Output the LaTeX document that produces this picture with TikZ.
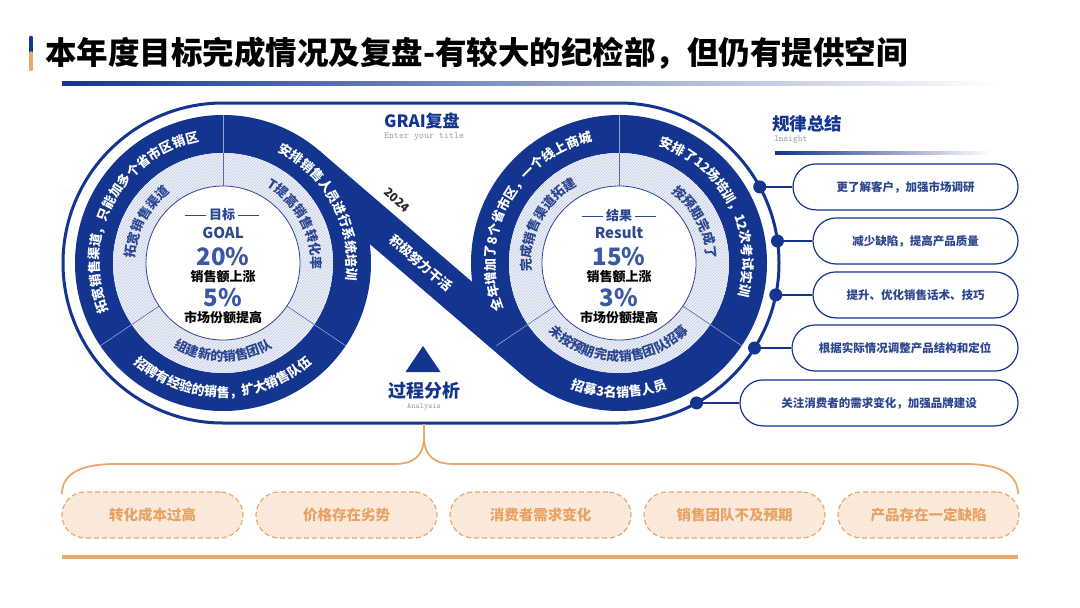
\documentclass[tikz,border=0pt]{standalone}
\usepackage{fontspec}
\setmainfont{Noto Sans CJK SC}
\usetikzlibrary{calc,decorations.text,patterns}
\definecolor{nb}{HTML}{14358F}
\definecolor{nbt}{HTML}{2B4590}
\definecolor{mb}{HTML}{3A58A3}
\definecolor{gb}{HTML}{2E4A8C}
\definecolor{og}{HTML}{EAA86B}
\definecolor{ogt}{HTML}{E8A262}
\definecolor{hatchbg}{HTML}{EEF1F8}
\definecolor{hatchln}{HTML}{BFCAE3}
\definecolor{peach}{HTML}{FDF3EA}
\definecolor{peachln}{HTML}{F5D8BC}
\newcommand\ringtext[6]{%
  \path[decorate,decoration={text along path,text align=center,text color=#5,
    text={|\bfseries\fontsize{13}{13}\selectfont|#6}}]
    ($(#1)+(#2:#4)$) arc[start angle=#2,end angle=#3,radius=#4];}
\tikzset{
  rpill/.style={draw=nb,line width=1.2,rounded corners=23,minimum height=46,
    fill=white,inner sep=0,text=nbt,font=\bfseries\fontsize{11.5}{11.5}\selectfont},
  opill/.style={draw=og,line width=1.2,dash pattern=on 5 off 3,rounded corners=23,
    minimum height=46,minimum width=181,inner sep=0,preaction={fill=peach},
    pattern=north east lines,pattern color=peachln,text=ogt,
    font=\bfseries\fontsize{14.5}{14.5}\selectfont},
  ctxt/.style={inner sep=0,font=\bfseries\fontsize{13}{13}\selectfont},
  bignum/.style={inner sep=0,text=mb,font=\bfseries\fontsize{24}{24}\selectfont},
  engl/.style={inner sep=0,text=gb,font=\bfseries\fontsize{15}{15}\selectfont},
  sub/.style={inner sep=0,text=gray!75,font=\ttfamily\fontsize{9.5}{9.5}\selectfont},
}
\begin{document}
\begin{tikzpicture}[x=1pt,y=1pt]
\useasboundingbox (0,0) rectangle (1080,-608);
\fill[white] (0,0) rectangle (1080,-608);
% title
\draw[nb,line width=3.5,line cap=round] (31,-37.5) -- (31,-53);
\draw[og,line width=3.5,line cap=round] (31,-53) -- (31,-69.5);
\node[anchor=west,inner sep=0,font=\bfseries\fontsize{31.5}{31.5}\selectfont] (title) at (45,-53)
  {本年度目标完成情况及复盘-有较大的纪检部，但仍有提供空间};
\shade[left color=nb,right color=white] (62,-81.5) rectangle (1000,-85);
% headings
\node[anchor=west,inner sep=0,text=nb,font=\bfseries\fontsize{17}{17}\selectfont] (grai) at (384,-121) {GRAI复盘};
\node[anchor=west,sub] (grais) at (384,-137) {Enter your title};
\node[anchor=west,inner sep=0,text=nb,font=\bfseries\fontsize{17.5}{17.5}\selectfont] (ins) at (772,-124) {规律总结};
\node[anchor=west,sub,font=\ttfamily\fontsize{9}{9}\selectfont] (inss) at (774,-140) {Insight};
\shade[left color=nb,right color=white] (775,-151) rectangle (992,-154);
% centres
\coordinate (L) at (223,-263);
\coordinate (R) at (619,-263);
% stadium outline
\draw[nb,line width=3] (223,-103) -- (619,-103) arc[start angle=90,end angle=-90,radius=160]
  -- (223,-423) arc[start angle=270,end angle=90,radius=160] -- cycle;
% dark rings and band
\foreach \c in {L,R}{
  \fill[nb,even odd rule] (\c) circle[radius=148] (\c) circle[radius=110];
}
\draw[nb,line width=38] ($(L)+(49.34:129)$) -- ($(R)+(229.34:129)$);
% hatched rings
\foreach \c in {L,R}{
  \fill[hatchbg,even odd rule] (\c) circle[radius=110] (\c) circle[radius=77];
  \fill[pattern=north east lines,pattern color=hatchln,even odd rule] (\c) circle[radius=110] (\c) circle[radius=77];
  \fill[white] (\c) circle[radius=77];
  \draw[nbt,line width=0.8] (\c) circle[radius=77];
  \foreach \a in {90,214,326}{
    \draw[nbt!80,line width=0.6] ($(\c)+(\a:77)$) -- ($(\c)+(\a:110)$);
    \draw[white!55!nb,line width=0.6] ($(\c)+(\a:110)$) -- ($(\c)+(\a:148)$);
  }
}
% ring texts
\ringtext{L}{212}{92}{124}{white}{拓宽销售渠道，只能加多个省市区销区}
\ringtext{L}{88}{-32}{124}{white}{安排销售人员进行系统培训}
\ringtext{L}{216}{324}{134}{white}{招聘有经验的销售，扩大销售队伍}
\ringtext{L}{212}{92}{88}{nbt}{拓宽销售渠道}
\ringtext{L}{88}{-32}{88}{nbt}{T提高销售转化率}
\ringtext{L}{216}{324}{98}{nbt}{组建新的销售团队}
\ringtext{R}{212}{92}{124}{white}{全年增加了8个省市区，一个线上商城}
\ringtext{R}{88}{-32}{124}{white}{安排了12场培训，12次考试实训}
\ringtext{R}{216}{324}{134}{white}{招募3名销售人员}
\ringtext{R}{212}{92}{88}{nbt}{完成销售渠道拓建}
\ringtext{R}{88}{-32}{88}{nbt}{按预期完成了}
\ringtext{R}{216}{324}{98}{nbt}{未按预期完成销售团队招募}
% band texts
\node[rotate=-40.66,inner sep=0,text=white,font=\bfseries\fontsize{13}{13}\selectfont] (band) at (421,-263) {积极努力干活};
\node[rotate=-40.66,inner sep=0,text=black!85,font=\bfseries\fontsize{12}{12}\selectfont] (year) at (397,-200) {2024};
% centre texts left
\node[ctxt,text=nbt] (gl) at (222,-215) {目标};
\draw[nbt,line width=0.8] ($(gl.west)+(-3,0)$) -- ++(-21,0);
\draw[nbt,line width=0.8] ($(gl.east)+(3,0)$) -- ++(21,0);
\node[engl] (goal) at (223,-233) {GOAL};
\node[bignum] (g20) at (223,-257) {20\%};
\node[ctxt] (gs1) at (223,-277) {销售额上涨};
\node[bignum] (g5) at (223,-298) {5\%};
\node[ctxt] (gs2) at (223,-318) {市场份额提高};
% centre texts right
\node[ctxt,text=nbt] (rl) at (619,-216) {结果};
\draw[nbt,line width=0.8] ($(rl.west)+(-3,0)$) -- ++(-21,0);
\draw[nbt,line width=0.8] ($(rl.east)+(3,0)$) -- ++(21,0);
\node[engl] (res) at (619,-233) {Result};
\node[bignum] (r15) at (619,-257) {15\%};
\node[ctxt] (rs1) at (619,-277) {销售额上涨};
\node[bignum] (r3) at (619,-298) {3\%};
\node[ctxt] (rs2) at (619,-318) {市场份额提高};
% process analysis
\fill[nb] (423,-346) -- (440.5,-372) -- (405.5,-372) -- cycle;
\node[inner sep=0,text=nb,font=\bfseries\fontsize{18}{18}\selectfont] (proc) at (424,-391) {过程分析};
\node[sub,font=\ttfamily\fontsize{8}{8}\selectfont] (procs) at (424,-407) {Analysis};
% right pills
\foreach \i/\a in {1/28.4,2/7.9,3/-11.5,4/-32.1,5/-61.0}{
  \coordinate (d\i) at ($(R)+(\a:160)$);
}
\node[rpill,minimum width=225] (p1) at (905.5,-186.9) {更了解客户，加强市场调研};
\node[rpill,minimum width=205] (p2) at (915.5,-241) {减少缺陷，提高产品质量};
\node[rpill,minimum width=205] (p3) at (915.5,-294.9) {提升、优化销售话术、技巧};
\node[rpill,minimum width=226] (p4) at (905,-348) {根据实际情况调整产品结构和定位};
\node[rpill,minimum width=278] (p5) at (879,-402.9) {关注消费者的需求变化，加强品牌建设};
\foreach \i in {1,...,5}{
  \draw[nb,line width=1.2] (d\i) -- (d\i -| p\i.west);
  \fill[nb] (d\i) circle[radius=6.5];
}
% brace
\coordinate (bt) at (424,-424);
\draw[og,line width=1.8] (bt) -- (424,-436) .. controls (424,-456) and (414,-464) .. (394,-464)
  -- (115,-464) .. controls (80,-464) and (62,-474) .. (62,-494);
\draw[og,line width=1.8] (424,-436) .. controls (424,-456) and (434,-464) .. (454,-464)
  -- (965,-464) .. controls (1000,-464) and (1018,-474) .. (1018,-494);
% bottom pills
\node[opill] (b1) at (152.5,-515) {转化成本过高};
\node[opill] (b2) at (346.5,-515) {价格存在劣势};
\node[opill] (b3) at (540.5,-515) {消费者需求变化};
\node[opill] (b4) at (734.5,-515) {销售团队不及预期};
\node[opill] (b5) at (928.5,-515) {产品存在一定缺陷};
\draw[og,line width=3.5] (62,-557) -- (1018,-557);
\end{tikzpicture}
\end{document}
